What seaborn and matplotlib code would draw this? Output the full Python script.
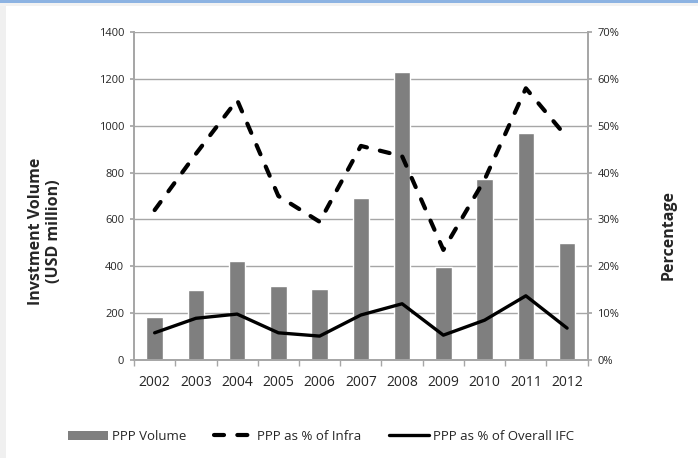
import numpy as np
import pandas as pd
import matplotlib
matplotlib.use("Agg")
import matplotlib.pyplot as plt
from matplotlib.patches import Rectangle
from matplotlib.lines import Line2D
from matplotlib.patches import Patch
import seaborn as sns

years = ["2002", "2003", "2004", "2005", "2006", "2007", "2008", "2009", "2010", "2011", "2012"]
ppp_volume = [185, 299, 424, 316, 304, 693, 1228, 398, 771, 967, 498]
pct_infra = [32.0, 44.0, 55.5, 35.0, 29.5, 45.7, 43.5, 23.5, 38.5, 58.0, 47.5]
pct_ifc = [5.8, 8.9, 9.8, 5.8, 5.1, 9.6, 12.0, 5.3, 8.5, 13.7, 6.8]

sns.set_theme(style="white")
plt.rcParams['font.family'] = ['Open Sans', 'DejaVu Sans']

df = pd.DataFrame({"year": years, "vol": ppp_volume, "infra": pct_infra, "ifc": pct_ifc})
df["pos"] = np.arange(len(years))

fig = plt.figure(figsize=(6.98, 4.58), dpi=100)
ax = fig.add_axes([0.192, 0.214, 0.650, 0.716])

grid_c = "#a6a6a6"
sns.barplot(data=df, x="year", y="vol", color="#7f7f7f", saturation=1, width=0.4, ax=ax, zorder=2)
ax.set_ylim(0, 1400)
ax.set_xlim(-0.5, len(years) - 0.5)
ax.set_yticks(np.arange(0, 1401, 200))
ax.yaxis.grid(True, color=grid_c, linewidth=1.0, zorder=0)
ax.set_axisbelow(True)
ax.set_xlabel("")
ax.set_ylabel("")

ax2 = ax.twinx()
sns.lineplot(x=df["pos"], y=df["infra"], ax=ax2, color="black", linewidth=3, zorder=3)
dl = ax2.lines[-1]
dl.set_dashes([2.4, 3.2])
dl.set_dash_capstyle("round")
sns.lineplot(x=df["pos"], y=df["ifc"], ax=ax2, color="black", linewidth=2.4, zorder=3)
ax2.set_ylim(0, 70)
ax2.set_xlim(-0.5, len(years) - 0.5)
ax2.set_yticks(np.arange(0, 71, 10))
ax2.set_yticklabels([f"{v}%" for v in range(0, 71, 10)])
ax2.set_ylabel("")
ax2.set_xlabel("")

for a in (ax, ax2):
    for s in a.spines.values():
        s.set_color(grid_c)
    a.spines["top"].set_visible(False)
    a.tick_params(axis="y", labelsize=8, length=3, color=grid_c, pad=4, direction="out")
ax.tick_params(axis="y", left=True)
ax2.tick_params(axis="y", right=True)

ax.set_xticks(np.arange(len(years)))
ax.set_xticklabels(years)
ax.set_xticks(np.arange(-0.5, len(years)), minor=True)
ax.tick_params(axis="x", which="major", length=0, labelsize=10, pad=11)
ax.tick_params(axis="x", which="minor", length=4, color=grid_c, bottom=True, direction="out")

fig.text(0.0645, 0.496, "Invstment Volume\n(USD million)", rotation=90, ha="center",
         va="center", fontsize=11.5, fontweight="bold", multialignment="center")
fig.text(0.958, 0.486, "Percentage", rotation=90, ha="center", va="center",
         fontsize=11.5, fontweight="bold")

handles = [Patch(facecolor="#7f7f7f", edgecolor="none"),
           Line2D([0], [0], color="black", linewidth=3, dashes=[2.4, 3.2],
                  dash_capstyle="round"),
           Line2D([0], [0], color="black", linewidth=2.4)]
labels = ["PPP Volume", "PPP as % of Infra", "PPP as % of Overall IFC"]
fig.legend(handles, labels, loc="center", bbox_to_anchor=(0.46, 0.047), ncol=3,
           frameon=False, fontsize=9.5, columnspacing=2.1, handlelength=3.0,
           handletextpad=0.3)

fig.patches.append(Rectangle((0, 0.993), 1, 0.007, transform=fig.transFigure,
                             facecolor="#8db3e2", edgecolor="none"))
fig.patches.append(Rectangle((0, 0.986), 1, 0.007, transform=fig.transFigure,
                             facecolor="#f2f2f2", edgecolor="none"))
fig.patches.append(Rectangle((0, 0), 0.009, 0.986, transform=fig.transFigure,
                             facecolor="#f0f0f0", edgecolor="none"))

fig.savefig("out.png", dpi=100)
